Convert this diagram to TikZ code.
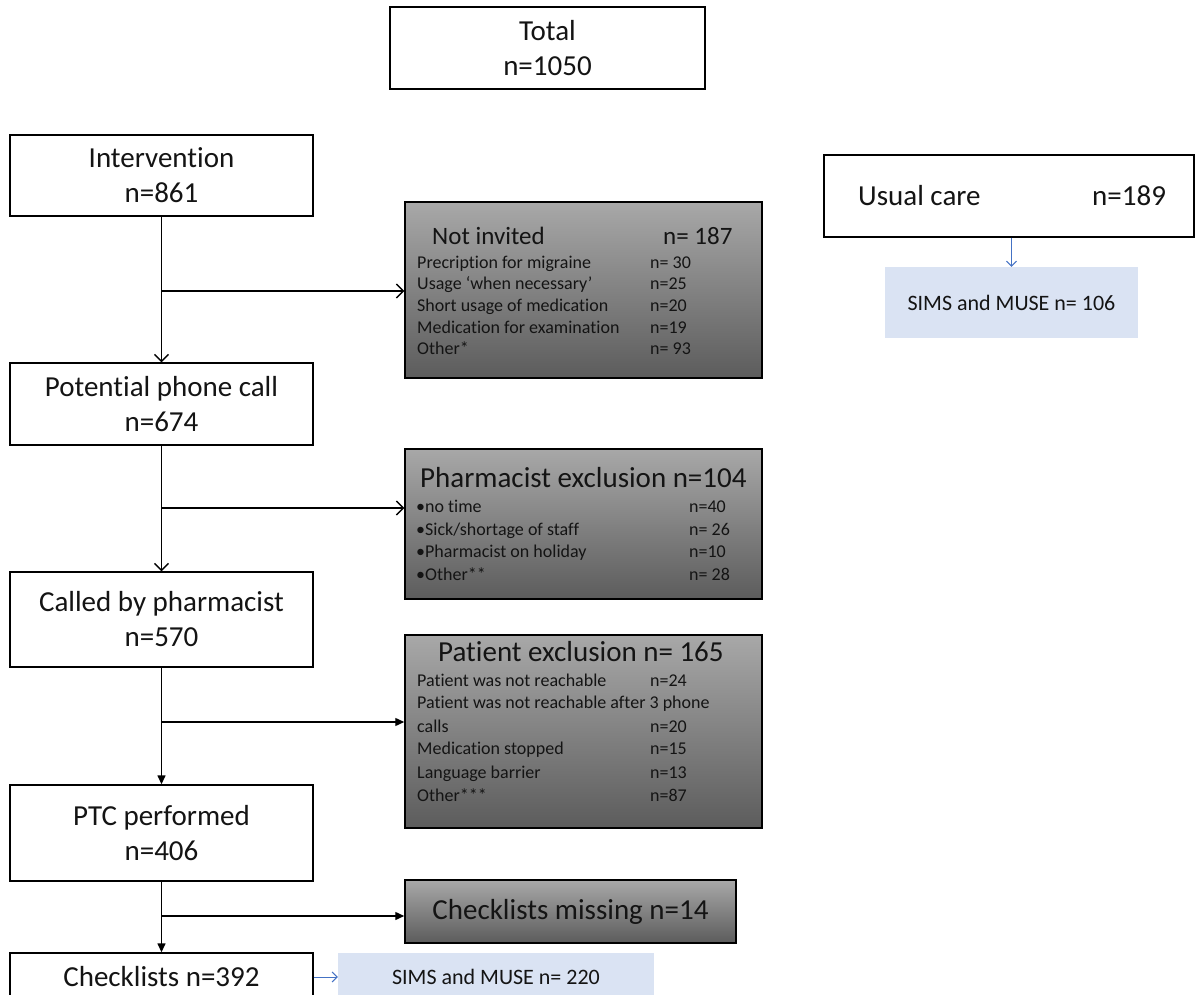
\documentclass[tikz,border=0pt]{standalone}
\usepackage{fontspec}
\setmainfont{Carlito}[Ligatures=NoCommon]
\usetikzlibrary{arrows.meta}
\definecolor{gtop}{RGB}{168,168,168}
\definecolor{gbot}{RGB}{92,92,92}
\definecolor{lblue}{RGB}{218,227,243}
\definecolor{mblue}{RGB}{68,114,196}
\definecolor{txt}{RGB}{20,20,20}
\begin{document}
\begin{tikzpicture}[x=1pt,y=-1pt,
  wbox/.style={draw=black,line width=1.4pt,fill=white,align=center,inner sep=0pt,font=\fontsize{29}{35}\selectfont,text=txt},
  gbox/.style={draw=black,line width=1.5pt,top color=gtop,bottom color=gbot,inner sep=0pt},
  bbox/.style={fill=lblue,inner sep=0pt,font=\fontsize{22}{26}\selectfont,text=txt},
  small/.style={anchor=base west,inner sep=0pt,font=\fontsize{18}{22}\selectfont,text=txt},
  mid/.style={anchor=base west,inner sep=0pt,font=\fontsize{25}{30}\selectfont,text=txt},
  head/.style={anchor=base west,inner sep=0pt,font=\fontsize{29}{35}\selectfont,text=txt},
  conn/.style={line width=1.4pt,draw=black},
  openarr/.style={conn,-{Straight Barb[length=7pt,width=14pt,line width=1.3pt]}},
  fillarr/.style={conn,-{Triangle[length=9pt,width=8pt]}},
  bluearr/.style={line width=1pt,draw=mblue,-{Straight Barb[length=5pt,width=10pt,line width=1pt]}},
]
\useasboundingbox (0,0) rectangle (1195,995);
\clip (0,0) rectangle (1195,995);

% main column
\node[wbox,minimum width=315pt,minimum height=82pt] (total) at (547.5,48) {Total\\n=1050};
\node[wbox,minimum width=303pt,minimum height=81pt] (int) at (161.5,175.5) {Intervention\\n=861};
\node[wbox,minimum width=303pt,minimum height=82pt] (pot) at (161.5,404) {Potential phone call\\n=674};
\node[wbox,minimum width=303pt,minimum height=95pt] (called) at (161.5,619.5) {Called by pharmacist\\n=570};
\node[wbox,minimum width=303pt,minimum height=96pt] (ptc) at (161.5,833) {PTC performed\\n=406};
\node[wbox,minimum width=303pt,minimum height=48pt] (chk) at (161.5,977) {Checklists n=392};

% usual care
\node[wbox,minimum width=370pt,minimum height=82pt] (uc) at (1009,196) {};
\node[head] (uct) at (858,206) {Usual care};
\node[head] (ucn) at (1092,206) {n=189};
\node[bbox,minimum width=253pt,minimum height=71pt] (sims1) at (1011.5,302.5) {SIMS and MUSE n= 106};
\node[bbox,minimum width=316pt,minimum height=48pt] (sims2) at (496,977) {SIMS and MUSE n= 220};

% not invited
\node[gbox,minimum width=357pt,minimum height=176pt] (ni) at (583.5,290) {};
\node[mid] (nih) at (432,244.5) {Not invited};
\node[mid] (nin) at (663,244.5) {n= 187};
\node[small] (ni1) at (417,268.5) {Precription for migraine};
\node[small] (ni1n) at (650,268.5) {n= 30};
\node[small] (ni2) at (417,289.5) {Usage ‘when necessary’};
\node[small] (ni2n) at (650,289.5) {n=25};
\node[small] (ni3) at (417,311.5) {Short usage of medication};
\node[small] (ni3n) at (650,311.5) {n=20};
\node[small] (ni4) at (417,333.5) {Medication for examination};
\node[small] (ni4n) at (650,333.5) {n=19};
\node[small] (ni5) at (417,354.5) {Other*};
\node[small] (ni5n) at (650,354.5) {n= 93};

% pharmacist exclusion
\node[gbox,minimum width=357pt,minimum height=150pt] (ph) at (583.5,524) {};
\node[head] (phh) at (420,487) {Pharmacist exclusion n=104};
\node[small] (ph1) at (416,512.5) {•no time};
\node[small] (ph1n) at (689,512.5) {n=40};
\node[small] (ph2) at (416,535.5) {•Sick/shortage of staff};
\node[small] (ph2n) at (689,535.5) {n= 26};
\node[small] (ph3) at (416,557.5) {•Pharmacist on holiday};
\node[small] (ph3n) at (689,557.5) {n=10};
\node[small] (ph4) at (416,580.5) {•Other**};
\node[small] (ph4n) at (689,580.5) {n= 28};

% patient exclusion
\node[gbox,minimum width=357pt,minimum height=193pt] (pa) at (583.5,731.5) {};
\node[head] (pah) at (438,661) {Patient exclusion n= 165};
\node[small] (pa1) at (417,686.5) {Patient was not reachable};
\node[small] (pa1n) at (650,686.5) {n=24};
\node[small] (pa2) at (417,708.5) {Patient was not reachable after 3 phone};
\node[small] (pa3) at (417,732.5) {calls};
\node[small] (pa3n) at (650,732.5) {n=20};
\node[small] (pa4) at (417,754.5) {Medication stopped};
\node[small] (pa4n) at (650,754.5) {n=15};
\node[small] (pa5) at (417,778.5) {Language barrier};
\node[small] (pa5n) at (650,778.5) {n=13};
\node[small] (pa6) at (417,801.5) {Other***};
\node[small] (pa6n) at (650,801.5) {n=87};

% checklists missing
\node[gbox,minimum width=331pt,minimum height=63pt,font=\fontsize{29}{35}\selectfont,text=txt] (cm) at (570.5,911.5) {Checklists missing n=14};

% connectors
\draw[openarr] (int.south) -- (pot.north);
\coordinate (b1) at (161.5,291);
\draw[openarr] (b1) -- (b1 -| ni.west);
\draw[openarr] (pot.south) -- (called.north);
\coordinate (b2) at (161.5,508);
\draw[openarr] (b2) -- (b2 -| ph.west);
\draw[fillarr] (called.south) -- (ptc.north);
\coordinate (b3) at (161.5,722);
\draw[fillarr] (b3) -- (b3 -| pa.west);
\draw[fillarr] (ptc.south) -- (chk.north);
\coordinate (b4) at (161.5,916);
\draw[fillarr] (b4) -- (b4 -| cm.west);
\draw[bluearr] (uc.south -| sims1.north) -- (sims1.north);
\draw[bluearr] (chk.east) -- (sims2.west);
\end{tikzpicture}
\end{document}
